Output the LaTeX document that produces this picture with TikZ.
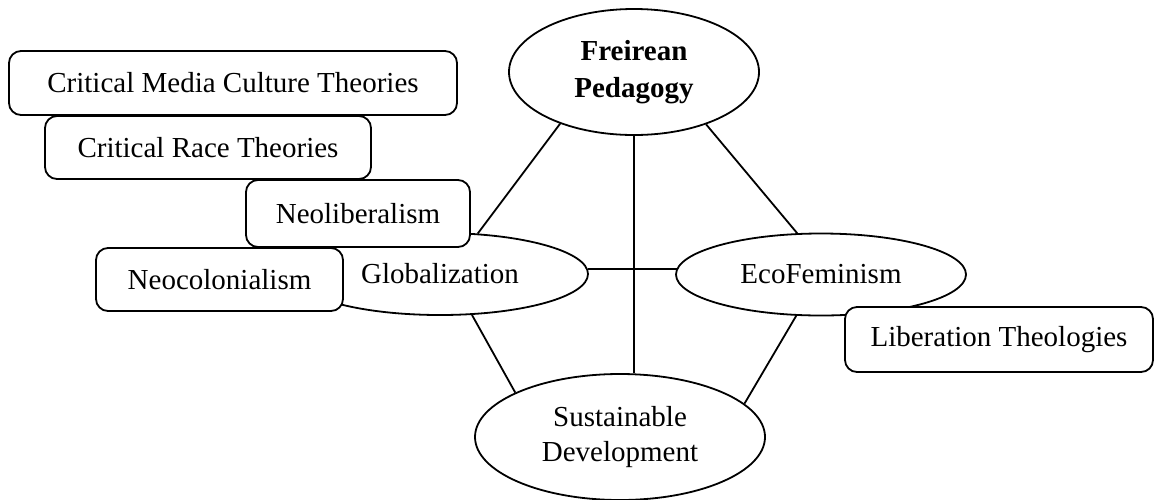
\documentclass[tikz,border=0pt]{standalone}
\usepackage{fontspec}
\setmainfont{Liberation Serif}
\usetikzlibrary{shapes.geometric}
\begin{document}
\begin{tikzpicture}[x=0.5pt,y=-0.5pt,
  every node/.style={font=\fontsize{14.5}{17.5}\selectfont, inner sep=0pt, align=center},
  topic/.style={ellipse, draw, line width=0.9pt, fill=white},
  tbox/.style={rectangle, rounded corners=6pt, draw, line width=0.9pt, fill=white},
  link/.style={line width=0.9pt}]
\useasboundingbox (0,0) rectangle (1155,499);
% ellipses
\node[topic, minimum width=125pt, minimum height=63pt, font=\fontsize{14.5}{18.5}\selectfont\bfseries] (fp) at (634,72) {Freirean\\Pedagogy};
\node[topic, minimum width=148pt, minimum height=41pt] (gl) at (440,274) {Globalization};
\node[topic, minimum width=145pt, minimum height=41pt] (ef) at (821,274.5) {EcoFeminism};
\node[topic, minimum width=145pt, minimum height=63pt] (sd) at (620,437) {Sustainable\\Development};
% connectors
\draw[link] (fp.215) -- (gl.47.3);
\draw[link] (fp.324) -- (ef.120.3);
\draw[link] (fp.south) -- (fp.south |- sd.north);
\draw[link] (gl.2.35) -- (gl.2.35 -| ef.177.4);
\draw[link] (gl.-52.9) -- (sd.157.8);
\draw[link] (ef.239.7) -- (sd.15);
% boxes
\node[tbox, minimum width=224pt, minimum height=32pt] (cmc) at (233,83) {Critical Media Culture Theories};
\node[tbox, minimum width=163pt, minimum height=31.5pt] (crt) at (208,147.5) {Critical Race Theories};
\node[tbox, minimum width=112pt, minimum height=33.5pt] (nl) at (358,213.5) {Neoliberalism};
\node[tbox, minimum width=123.5pt, minimum height=31.5pt] (nc) at (219.5,279.5) {Neocolonialism};
\node[tbox, minimum width=154pt, minimum height=32.5pt] (lt) at (999,339.5) {Liberation Theologies};
\end{tikzpicture}
\end{document}
